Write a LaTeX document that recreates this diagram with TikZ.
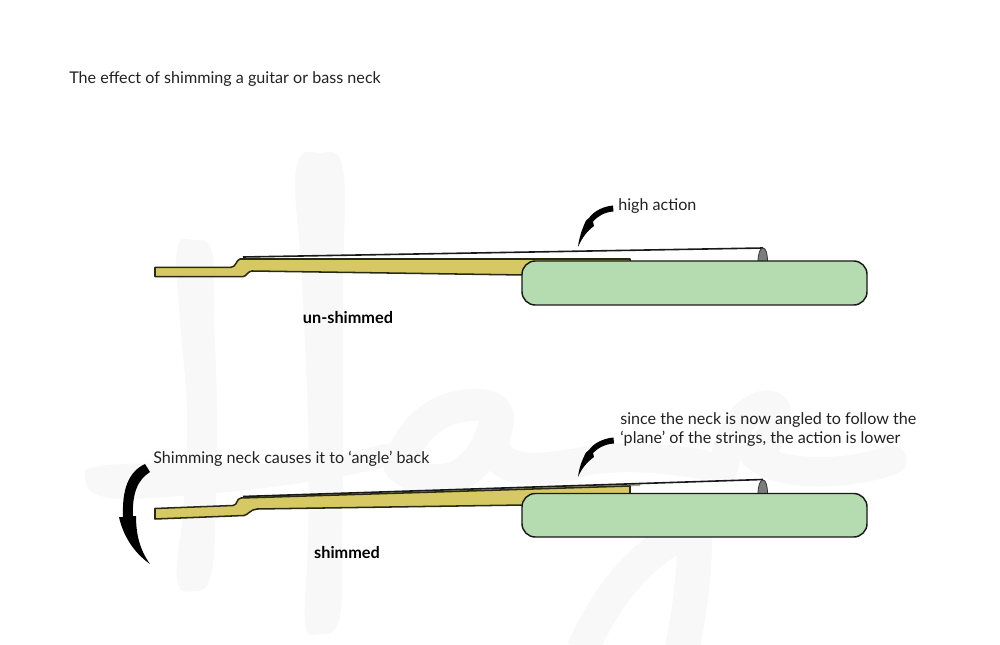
\documentclass[tikz,border=0pt]{standalone}
\usepackage{fontspec}
\setmainfont{Lato}
\definecolor{wm}{HTML}{F8F8F8}
\definecolor{neckc}{HTML}{D6C964}
\definecolor{bodyc}{HTML}{B5DCB1}
\definecolor{edge}{HTML}{2A2A12}
\definecolor{txt}{HTML}{222222}
\definecolor{fretc}{HTML}{A9A9A0}
\definecolor{bridgec}{HTML}{7C7C7C}
\tikzset{
  mark stroke/.style={draw=wm,line width=24,line cap=round,line join=round},
  neckshape/.style={fill=neckc,draw=edge,line width=1.15pt,line join=round},
  bodyshape/.style={fill=bodyc,draw=black!90,line width=1.1pt,rounded corners=10pt},
  stringline/.style={draw=black!90,line width=1.2pt},
  bridgeshape/.style={fill=bridgec,draw=black!80,line width=.6pt},
  pointer/.style={fill=black,draw=none},
  plain label/.style={anchor=base west,inner sep=0,text=txt,font=\fontsize{12.1pt}{15pt}\selectfont},
  bold label/.style={anchor=base,inner sep=0,text=black,font=\fontsize{12.2pt}{15pt}\selectfont\bfseries},
}
\begin{document}
\begin{tikzpicture}[x=0.75pt,y=-0.75pt]
\useasboundingbox (0,0) rectangle (1000,645);
\fill[white] (0,0) rectangle (1000,645);
% watermark
\fill[wm] plot[smooth cycle,tension=.7] coordinates {(177,250)(193,240)(212,252)(214,320)(217,410)(216,500)(211,575)(194,591)(177,578)(184,500)(187,410)(180,320)};
\fill[wm] plot[smooth cycle,tension=.7] coordinates {(296,170)(320,153)(343,170)(343,280)(343,420)(342,540)(339,620)(318,634)(305,622)(308,540)(308,420)(302,280)};
\fill[wm] plot[smooth cycle,tension=.7] coordinates {(85,478)(100,466)(180,463)(300,462)(396,443)(400,462)(300,483)(180,496)(105,497)};
\draw[mark stroke] (400,466) .. controls (405,440) and (430,405) .. (475,405) .. controls (515,405) and (490,435) .. (493,445) .. controls (500,475) and (540,470) .. (570,465);
\draw[mark stroke] (400,466) .. controls (415,480) and (440,485) .. (460,475) .. controls (475,465) and (485,455) .. (495,425);
\draw[mark stroke,line width=22] (570,465) .. controls (600,455) and (650,455) .. (705,465);
\draw[mark stroke,line width=22] (723,470) .. controls (730,425) and (750,405) .. (768,405) .. controls (785,405) and (775,440) .. (755,455) .. controls (780,478) and (850,475) .. (892,460);
\draw[mark stroke,line width=24,line cap=butt] (688,530) .. controls (640,555) and (610,590) .. (582,650);
\draw[mark stroke,line width=26,line cap=butt] (695,530) .. controls (695,570) and (690,610) .. (682,650);
% upper guitar
\fill[white] (244,256.5) -- (763,248) -- (763,262) -- (630,262) -- (630,259) -- (244,259) -- cycle;
\draw[stringline] (243,257) -- (763,248);
\path[bridgeshape] (758,262) .. controls (758,254) and (760,248) .. (763,248) .. controls (766,248) and (767.5,254) .. (767.5,262) -- cycle;
\path[neckshape] (155,267.3) -- (231,267.3) .. controls (236,267.3) and (236,260) .. (240,259) -- (630,259) -- (630,270) -- (524,275) -- (252,271) .. controls (248,271) and (246,276.7) .. (243,276.7) -- (155,276.7) -- cycle;
\draw[bodyshape] (522,261) rectangle (867,305);
\path[pointer] (613,205.5) .. controls (603,206.5) and (594,211) .. (589,218) -- (586,220.5) .. controls (582,229) and (579,238) .. (578,247) .. controls (582,238) and (587,231) .. (594,226) -- (593,221.5) .. controls (598,216) and (605,212) .. (613.5,211.5) -- cycle;
% lower guitar
\fill[white] (630,486) -- (763,479.5) -- (763,494) -- (630,494) -- cycle;
\path[fill=fretc] (244,496) -- (640,484) -- (640,486) -- (244,499) -- cycle;
\draw[stringline] (243,496.5) -- (763,479.5);
\path[bridgeshape] (758,494) .. controls (758,486) and (760,480) .. (763,480) .. controls (766,480) and (767.5,486) .. (767.5,494) -- cycle;
\path[neckshape] (155,508.5) -- (233,505.5) .. controls (238,505) and (236,498.5) .. (241,498) -- (630,486) -- (630,498) -- (524,505) -- (257,509) .. controls (250,509.5) and (248,515) .. (244,515.5) -- (155,519) -- cycle;
\draw[bodyshape] (522,493.5) rectangle (867,537);
\path[pointer] (613.5,437.5) .. controls (603,438.5) and (594,443) .. (589,450) -- (586,452.5) .. controls (582,460) and (579,468) .. (578,477) .. controls (582,468) and (587,462) .. (594,457) -- (593,453) .. controls (598,448) and (605,444) .. (614,443.5) -- cycle;
% rotation arrow
\path[pointer] (145,464) .. controls (128,472) and (122,490) .. (123,517) -- (119,517) .. controls (123,535) and (133,552) .. (150,564) .. controls (140,550) and (136,535) .. (136,516) -- (133,516) .. controls (132,495) and (137,480) .. (150,472) -- cycle;
% text
\node[plain label] (title) at (69,84) {The effect of shimming a guitar or bass neck};
\node[plain label] (high) at (618,211) {high action};
\node[bold label] (unsh) at (348,324) {un-shimmed};
\node[bold label] (sh) at (347,558) {shimmed};
\node[plain label] (back) at (153,463) {Shimming neck causes it to ‘angle’ back};
\node[plain label] (since1) at (620,425) {since the neck is now angled to follow the};
\node[plain label] (since2) at (620,443.5) {‘plane’ of the strings, the action is lower};
\end{tikzpicture}
\end{document}
